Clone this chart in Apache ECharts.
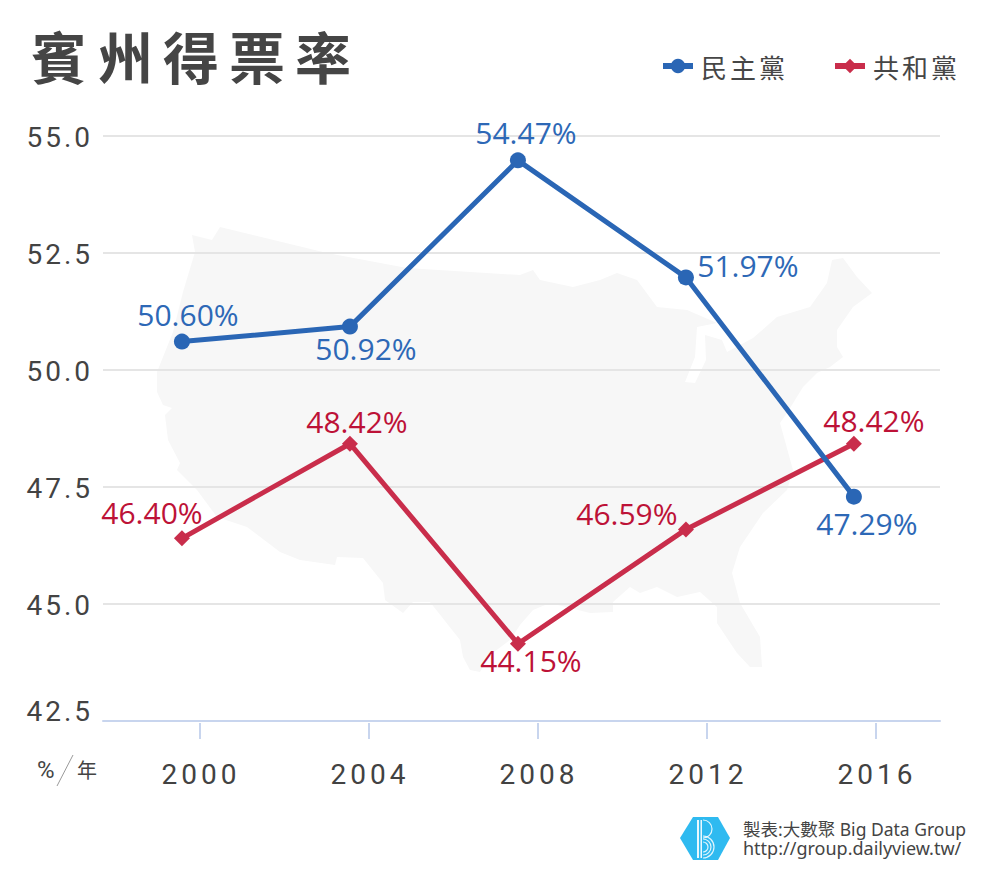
<!DOCTYPE html>
<html>
<head>
<meta charset="utf-8">
<style>
html,body{margin:0;padding:0;background:#fff}
#c{width:1000px;height:880px}
/* letter spacing for the tracked texts, matched on their fill */
#c text[fill="#454545"]{letter-spacing:10px}
#c text[fill="#434343"]{letter-spacing:3px}
#c text[fill="#424242"]{letter-spacing:4px}
#c text[fill="#464646"]{letter-spacing:3px}
</style>
<script src="https://cdn.jsdelivr.net/npm/echarts@6/dist/echarts.min.js"></script>
</head>
<body>
<div id="c"></div>
<script>
const years = [2000, 2004, 2008, 2012, 2016];
const democrat = [50.60, 50.92, 54.47, 51.97, 47.29];
const republican = [46.40, 48.42, 44.15, 46.59, 48.42];
const seriesNames = ['民主黨', '共和黨'];
const titleText = '賓州得票率';
const footerLines = ['製表:大數聚 Big Data Group', 'http://group.dailyview.tw/'];

const demOffsets = [[6,-27],[16,22],[8,-28],[62,-12],[13,27]];
const repOffsets = [[-30,-26],[7,-22],[13,17],[-59,-16],[20,-23]];

// Decorative US silhouette behind the plot
const usOutline = [[192,235],[212,240],[220,227],[327,253],[407,268],[520,275],[533,270],[540,280],[573,287],[600,280],[617,273],[637,280],[657,307],[687,310],[717,323],[697,327],[695,357],[685,382],[695,383],[706,360],[705,335],[722,340],[727,352],[753,338],[777,317],[810,307],[827,283],[832,260],[843,258],[857,277],[872,293],[853,307],[837,330],[837,347],[843,357],[830,367],[817,373],[803,387],[787,413],[780,423],[793,470],[787,490],[763,513],[740,547],[732,573],[740,603],[760,637],[762,667],[750,667],[737,653],[717,623],[717,607],[700,592],[677,597],[657,587],[640,593],[630,587],[613,602],[613,612],[590,613],[550,603],[533,610],[520,625],[510,640],[490,655],[480,672],[470,670],[463,657],[460,640],[430,602],[413,602],[403,613],[385,600],[383,583],[363,558],[337,557],[335,565],[300,560],[280,552],[247,527],[217,517],[197,490],[177,470],[180,463],[168,440],[165,415],[172,408],[163,405],[157,392],[157,372],[173,332],[183,292],[195,252]];
const logoHex = [[680,838],[693,817],[718,817],[730,838],[718,860],[693,860]];

const C_BLUE='#2a66b5', C_BLUE_T='#2d68b6', C_RED='#c92d4b', C_RED_T='#bd1237';
const labelFont = '"Open Sans","Noto Sans",sans-serif';
const numFont = 'Roboto,"Noto Sans",sans-serif';
const cjk = '"Noto Sans CJK TC","Noto Sans",sans-serif';

function points(vals, offsets){
  return vals.map((v,i)=>({
    value:[years[i], v],
    label:{offset:offsets[i]}
  }));
}
function arc(cx,cy,r,a0,a1){
  return {type:'arc',z:60,shape:{cx,cy,r,startAngle:a0,endAngle:a1,clockwise:true},
    style:{stroke:'#fff',lineWidth:1.2,fill:null,opacity:.85}};
}

const chart = echarts.init(document.getElementById('c'), null, {renderer:'svg', width:1000, height:880});
chart.setOption({
  animation:false,
  backgroundColor:'#fff',
  title:{text:titleText,left:31,top:26,padding:0,
    textStyle:{fontFamily:cjk,fontSize:56,fontWeight:'bold',color:'#454545'}},
  legend:{left:660,top:53,padding:0,itemWidth:30,itemHeight:18,itemGap:53,
    lineStyle:{width:6},
    textStyle:{fontFamily:cjk,fontSize:26,color:'#464646',padding:[2,0,0,3]},
    data:seriesNames},
  grid:{left:103,right:60,top:135.5,height:585.5,containLabel:false},
  xAxis:[
    {type:'value',min:1998.12,max:2018.05,
      axisLine:{show:true,onZero:false,lineStyle:{color:'#c8d5ee',width:2}},
      axisTick:{show:false},axisLabel:{show:false},splitLine:{show:false}},
    {type:'value',min:1997.704,max:2017.515,position:'bottom',offset:2,
      axisLine:{show:false},
      axisTick:{show:true,length:16,customValues:years,lineStyle:{color:'#c8d5ee',width:2}},
      axisLabel:{show:true,customValues:years,margin:37,padding:[0,0,0,2],formatter:v=>String(v),
        fontFamily:numFont,fontSize:28,color:'#424242'},
      splitLine:{show:false}}
  ],
  yAxis:{type:'value',min:42.5,max:55,interval:2.5,
    axisLine:{show:false},axisTick:{show:false},
    axisLabel:{margin:10,padding:[0,0,8,0],lineHeight:4,verticalAlign:'top',verticalAlignMinLabel:'bottom',formatter:v=>v.toFixed(1),fontFamily:numFont,fontSize:28,color:'#434343'},
    splitLine:{lineStyle:{color:'#e5e5e5',width:2}}},
  series:[
    {name:seriesNames[0],type:'line',xAxisIndex:0,z:3,symbol:'circle',symbolSize:16,
      data:points(democrat,demOffsets),
      lineStyle:{color:C_BLUE,width:5},itemStyle:{color:C_BLUE},
      label:{show:true,position:'inside',fontFamily:labelFont,fontSize:30,color:C_BLUE_T,
        formatter:p=>p.value[1].toFixed(2)+'%'}},
    {name:seriesNames[1],type:'line',xAxisIndex:0,z:2,symbol:'diamond',symbolSize:16,
      data:points(republican,repOffsets),
      lineStyle:{color:C_RED,width:5},itemStyle:{color:C_RED},
      label:{show:true,position:'inside',fontFamily:labelFont,fontSize:30,color:C_RED_T,
        formatter:p=>p.value[1].toFixed(2)+'%'}}
  ],
  graphic:{elements:[
    {type:'polygon',z:-10,silent:true,shape:{points:usOutline},style:{fill:'#f7f7f7'}},
    {type:'text',x:37,y:770,z:50,style:{text:'%',font:'24px '+numFont,fill:'#444444',textVerticalAlign:'middle'}},
    {type:'line',z:50,shape:{x1:73,y1:755,x2:57,y2:786},style:{stroke:'#9a9a9a',lineWidth:1}},
    {type:'text',x:77,y:769,z:50,style:{text:'年',font:'20px '+cjk,fill:'#444444',textVerticalAlign:'middle'}},
    {type:'polygon',z:50,shape:{points:logoHex},style:{fill:'#2fbaf0'}},
    {type:'rect',z:60,shape:{x:697,y:820,width:2,height:38},style:{fill:'#fff',opacity:.9}},
    {type:'rect',z:60,shape:{x:700.5,y:820,width:1.5,height:38},style:{fill:'#fff',opacity:.9}},
    arc(703,829,9,-Math.PI/2,Math.PI/2),
    arc(703,847,11,-Math.PI/2,Math.PI/2),
    arc(703,847,8,-Math.PI/2,Math.PI/2),
    arc(703,847,5,-Math.PI/2,Math.PI/2),
    {type:'text',x:743,y:829,z:50,style:{text:footerLines[0],font:'17.5px "Noto Sans","Noto Sans CJK TC",sans-serif',fill:'#444444',textVerticalAlign:'middle'}},
    {type:'text',x:743,y:848,z:50,style:{text:footerLines[1],font:'18px "Noto Sans",sans-serif',fill:'#444444',textVerticalAlign:'middle'}}
  ]}
});
</script>
</body>
</html>
